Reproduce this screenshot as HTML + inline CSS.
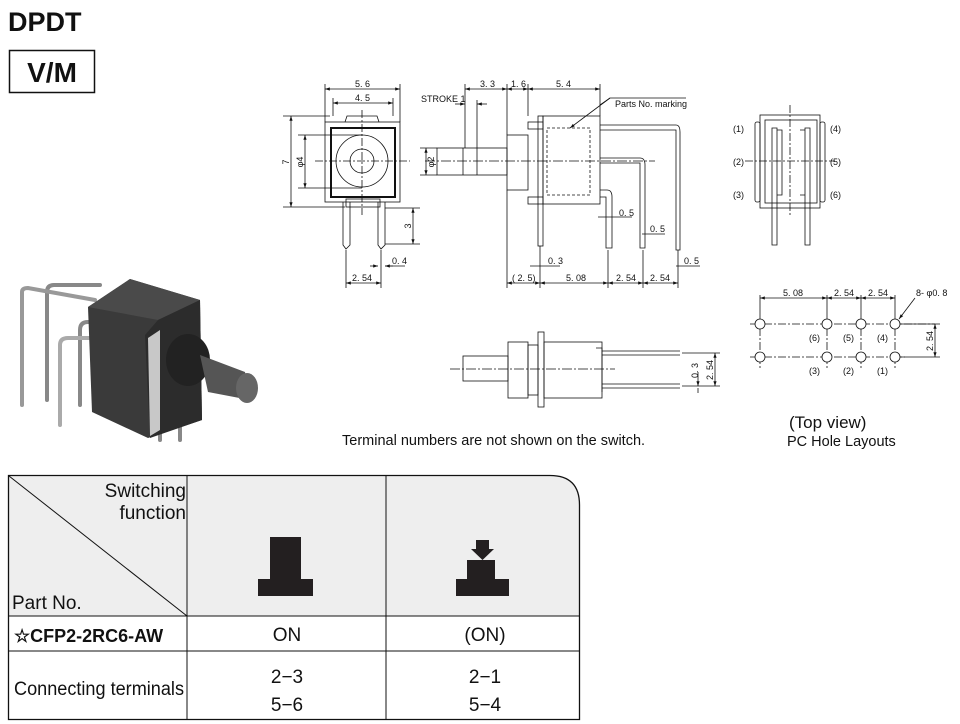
<!DOCTYPE html>
<html><head><meta charset="utf-8"><style>
body{margin:0;background:#fff;width:960px;height:724px;overflow:hidden}
svg{display:block}
text{font-family:"Liberation Sans",Arial,sans-serif;fill:#111}
</style></head><body>
<svg width="960" height="724" viewBox="0 0 960 724" xmlns="http://www.w3.org/2000/svg">
<defs>
<marker id="a" markerWidth="6" markerHeight="6" refX="6" refY="3" orient="auto-start-reverse"><path d="M0,1 L6,3 L0,5z" fill="#111"/></marker>
</defs>
<!-- header -->
<text x="8" y="31" font-size="27" font-weight="bold">DPDT</text>
<rect x="9.5" y="50.5" width="85" height="42" fill="none" stroke="#111" stroke-width="1.5"/>
<text x="52" y="82" font-size="28" font-weight="bold" text-anchor="middle">V/M</text>

<!-- photo -->
<g stroke="#888" stroke-width="4" fill="none" stroke-linecap="round">
<path d="M47,400 V292 Q47,285 54,285 H100"/>
<path d="M22,405 V292 Q22,288 28,288 L95,300" stroke="#999"/>
<path d="M80,405 V330 Q80,322 88,322 H110" />
<path d="M60,425 V345 Q60,338 68,338 H100" stroke="#aaa"/>
<path d="M180,415 V440"/><path d="M160,420 V440"/>
</g>
<path d="M88,307 L130,279 L200,300 L202,420 L148,438 L92,412Z" fill="#3a3a3a"/>
<path d="M88,307 L130,279 L200,300 L158,320Z" fill="#4a4a4a"/>
<path d="M145,335 L158,320 L200,300 L202,420 L150,438Z" fill="#2c2c2c"/>
<path d="M148,338 L160,330 L160,430 L150,436Z" fill="#c8c8c8"/>
<ellipse cx="188" cy="360" rx="22" ry="26" fill="#222"/>
<path d="M200,355 L245,372 L250,400 L208,392Z" fill="#555"/>
<ellipse cx="247" cy="388" rx="11" ry="15" fill="#666"/>

<!-- front view -->
<g stroke="#111" fill="none" stroke-width="0.8">
<rect x="325" y="122" width="75" height="80"/>
<rect x="331" y="128" width="64" height="69" stroke-width="2"/>
<circle cx="362" cy="161" r="26"/><circle cx="362" cy="161" r="12"/>
<path d="M345,122 L347,116 H377 L379,122"/>
<rect x="346" y="199" width="34" height="8"/>
<path d="M343,202 V245 L346,249 L350,245 V202 M378,202 V245 L381,249 L385,245 V202"/>
<path d="M362,110 V215 M315,161 H410" stroke-dasharray="8,2,2,2"/>
<path d="M325,122 V84 M400,122 V84 M333,116 V98 M393,116 V98 M283,116 H330 M283,207 H345 M298,135 H362 M298,188 H362 M385,208 H420 M385,244 H420 M346,250 V288 M381,250 V288"/>
<line x1="325" y1="89" x2="400" y2="89" marker-start="url(#a)" marker-end="url(#a)"/>
<line x1="333" y1="103" x2="393" y2="103" marker-start="url(#a)" marker-end="url(#a)"/>
<line x1="291" y1="116" x2="291" y2="207" marker-start="url(#a)" marker-end="url(#a)"/>
<line x1="305" y1="135" x2="305" y2="188" marker-start="url(#a)" marker-end="url(#a)"/>
<line x1="413" y1="208" x2="413" y2="244" marker-start="url(#a)" marker-end="url(#a)"/>
<line x1="346" y1="283" x2="381" y2="283" marker-start="url(#a)" marker-end="url(#a)"/>
<line x1="370" y1="266" x2="378" y2="266" marker-end="url(#a)"/><line x1="393" y1="266" x2="385" y2="266" marker-end="url(#a)"/><line x1="385" y1="266" x2="405" y2="266"/>
</g>
<g font-size="9">
<text x="355" y="87">5. 6</text><text x="355" y="101">4. 5</text>
<text x="289" y="162" transform="rotate(-90 289 162)" text-anchor="middle">7</text>
<text x="303" y="162" transform="rotate(-90 303 162)" text-anchor="middle">φ4</text>
<text x="411" y="226" transform="rotate(-90 411 226)" text-anchor="middle">3</text>
<text x="392" y="264">0. 4</text><text x="352" y="281">2. 54</text>
</g>

<!-- side view -->
<g stroke="#111" fill="none" stroke-width="0.8">
<rect x="437" y="148" width="70" height="27"/>
<path d="M463,148 V175" />
<rect x="507" y="135" width="21" height="55"/>
<rect x="528" y="122" width="15" height="7"/><rect x="528" y="197" width="15" height="7"/>
<rect x="538" y="116" width="5" height="130"/>
<rect x="543" y="116" width="57" height="88"/>
<rect x="547" y="128" width="43" height="67" stroke-dasharray="3,2"/>
<path d="M600,125 H676 Q680,125 680,132 V250 H676 V130 H600"/>
<path d="M600,158 H640 Q645,158 645,165 V248 H640 V163 H600"/>
<path d="M600,190 H607 Q612,190 612,197 V248 H606 V197 H600"/>
<path d="M540,246 V250"/>
<path d="M425,161 H655" stroke-dasharray="10,2,2,2"/>
<path d="M465,84 V148 M477,100 V175 M507,84 V135 M528,84 V116 M600,84 V116 M507,190 V288 M540,250 V288 M608,250 V288 M643,250 V288 M678,250 V288 M437,148 H420 M437,175 H420 M600,105 L610,98 H686"/>
<line x1="465" y1="89" x2="507" y2="89" marker-start="url(#a)" marker-end="url(#a)"/>
<line x1="507" y1="89" x2="528" y2="89" marker-start="url(#a)" marker-end="url(#a)"/>
<line x1="528" y1="89" x2="600" y2="89" marker-start="url(#a)" marker-end="url(#a)"/>
<line x1="455" y1="104" x2="465" y2="104" marker-end="url(#a)"/><line x1="487" y1="104" x2="477" y2="104" marker-end="url(#a)"/>
<line x1="426" y1="161" x2="426" y2="148" marker-end="url(#a)"/><line x1="426" y1="161" x2="426" y2="175" marker-end="url(#a)"/>
<line x1="610" y1="98" x2="570" y2="128" marker-end="url(#a)"/>
<line x1="507" y1="283" x2="540" y2="283" marker-start="url(#a)" marker-end="url(#a)"/>
<line x1="540" y1="283" x2="608" y2="283" marker-start="url(#a)" marker-end="url(#a)"/>
<line x1="608" y1="283" x2="643" y2="283" marker-start="url(#a)" marker-end="url(#a)"/>
<line x1="643" y1="283" x2="678" y2="283" marker-start="url(#a)" marker-end="url(#a)"/>
<path d="M598,217 H632 M642,234 H665 M530,266 H560 M676,266 H700"/>
</g>
<g font-size="9">
<text x="480" y="87">3. 3</text><text x="511" y="87">1. 6</text><text x="556" y="87">5. 4</text>
<text x="421" y="102">STROKE 1</text><text x="615" y="107">Parts No. marking</text>
<text x="434" y="162" transform="rotate(-90 434 162)" text-anchor="middle">φ2</text>
<text x="619" y="216">0. 5</text><text x="650" y="232">0. 5</text><text x="548" y="264">0. 3</text><text x="684" y="264">0. 5</text>
<text x="512" y="281">( 2. 5)</text><text x="566" y="281">5. 08</text><text x="616" y="281">2. 54</text><text x="650" y="281">2. 54</text>
</g>

<!-- right view -->
<g stroke="#111" fill="none" stroke-width="0.8">
<rect x="760" y="115" width="60" height="93"/><rect x="765" y="120" width="52" height="83"/>
<rect x="755" y="122" width="5" height="80" rx="2"/><rect x="820" y="122" width="5" height="80" rx="2"/>
<path d="M772,128 V245 H777 V128Z M777,130 H782 V195 H777 M800,130 H805 V195 H800 M805,128 H810 V245 H805Z"/>
<path d="M790,105 V215 M745,161 H835" stroke-dasharray="8,2,2,2"/>
</g>
<g font-size="9"><text x="733" y="132">(1)</text><text x="733" y="165">(2)</text><text x="733" y="198">(3)</text>
<text x="830" y="132">(4)</text><text x="830" y="165">(5)</text><text x="830" y="198">(6)</text></g>

<!-- bottom side view -->
<g stroke="#111" fill="none" stroke-width="0.8">
<rect x="463" y="356" width="45" height="25"/>
<rect x="508" y="342" width="20" height="56"/>
<rect x="528" y="345" width="10" height="50"/>
<rect x="538" y="332" width="6" height="75"/>
<rect x="544" y="342" width="58" height="56"/>
<path d="M596,348 H602 V392 M602,351 H680 M602,355 H680 M602,384 H680 M602,388 H680"/>
<path d="M450,369 H615" stroke-dasharray="10,2,2,2"/>
<path d="M682,353 H720 M682,386 H720"/>
<line x1="715" y1="353" x2="715" y2="386" marker-start="url(#a)" marker-end="url(#a)"/>
<line x1="698" y1="372" x2="698" y2="386" marker-end="url(#a)"/><line x1="698" y1="393" x2="698" y2="388"/>
</g>
<g font-size="9"><text x="698" y="378" transform="rotate(-90 698 378)">0. 3</text><text x="713" y="380" transform="rotate(-90 713 380)">2. 54</text></g>

<!-- hole layout -->
<g stroke="#111" fill="none" stroke-width="0.8">
<path d="M750,324 H935 M750,357 H905 M760,314 V368 M827,314 V368 M861,314 V368 M895,314 V368" stroke-dasharray="8,2,2,2"/>
<circle cx="760" cy="324" r="5" fill="#fff"/><circle cx="827" cy="324" r="5" fill="#fff"/><circle cx="861" cy="324" r="5" fill="#fff"/><circle cx="895" cy="324" r="5" fill="#fff"/>
<circle cx="760" cy="357" r="5" fill="#fff"/><circle cx="827" cy="357" r="5" fill="#fff"/><circle cx="861" cy="357" r="5" fill="#fff"/><circle cx="895" cy="357" r="5" fill="#fff"/>
<path d="M760,295 V314 M827,295 V314 M861,295 V314 M895,295 V314 M900,324 H940 M900,357 H940"/>
<line x1="760" y1="298" x2="827" y2="298" marker-start="url(#a)" marker-end="url(#a)"/>
<line x1="827" y1="298" x2="861" y2="298" marker-start="url(#a)" marker-end="url(#a)"/>
<line x1="861" y1="298" x2="895" y2="298" marker-start="url(#a)" marker-end="url(#a)"/>
<line x1="935" y1="324" x2="935" y2="357" marker-start="url(#a)" marker-end="url(#a)"/>
<line x1="915" y1="298" x2="899" y2="319" marker-end="url(#a)"/>
</g>
<g font-size="9"><text x="783" y="296">5. 08</text><text x="834" y="296">2. 54</text><text x="868" y="296">2. 54</text><text x="916" y="296">8- φ0. 8</text>
<text x="809" y="341">(6)</text><text x="843" y="341">(5)</text><text x="877" y="341">(4)</text>
<text x="809" y="374">(3)</text><text x="843" y="374">(2)</text><text x="877" y="374">(1)</text>
<text x="933" y="341" transform="rotate(-90 933 341)" text-anchor="middle">2. 54</text></g>

<text x="342" y="445" font-size="14.5">Terminal numbers are not shown on the switch.</text>
<text x="789" y="428" font-size="17">(Top view)</text>
<text x="787" y="446" font-size="14.5">PC Hole Layouts</text>

<!-- table -->
<path d="M8,475 H550 Q580,475 580,505 V720 H8Z" fill="#fff"/>
<path d="M8.5,475.5 H550 Q579.5,475.5 579.5,505 V616 H8.5Z" fill="#eeeeee"/>
<path d="M8.5,475.5 H550 Q579.5,475.5 579.5,505 V719.5 H8.5Z" fill="none" stroke="#111" stroke-width="1.3"/>
<g stroke="#111" stroke-width="1"><line x1="187" y1="475" x2="187" y2="720"/><line x1="386" y1="475" x2="386" y2="720"/>
<line x1="8" y1="616" x2="580" y2="616"/><line x1="8" y1="651" x2="580" y2="651"/><line x1="9" y1="476" x2="187" y2="616"/></g>
<rect x="270" y="537" width="31" height="43" fill="#231f20"/><rect x="258" y="579" width="55" height="17" fill="#231f20"/>
<path d="M476,540 H489 V549 H494 L482.5,560 L471,549 H476Z" fill="#231f20"/>
<rect x="467" y="560" width="28" height="20" fill="#231f20"/><rect x="456" y="579" width="53" height="17" fill="#231f20"/>
<g font-size="19" font-family="Liberation Sans Narrow, Liberation Sans, sans-serif">
<text x="186" y="497" text-anchor="end">Switching</text><text x="186" y="519" text-anchor="end">function</text>
<text x="12" y="609">Part No.</text>
<text x="14" y="642" font-weight="bold" font-size="18">☆CFP2-2RC6-AW</text>
<text x="287" y="641" text-anchor="middle">ON</text><text x="485" y="641" text-anchor="middle">(ON)</text>
<text x="14" y="695" textLength="170" lengthAdjust="spacingAndGlyphs">Connecting terminals</text>
<text x="287" y="683" text-anchor="middle">2−3</text><text x="287" y="711" text-anchor="middle">5−6</text>
<text x="485" y="683" text-anchor="middle">2−1</text><text x="485" y="711" text-anchor="middle">5−4</text>
</g>
</svg>
</body></html>
